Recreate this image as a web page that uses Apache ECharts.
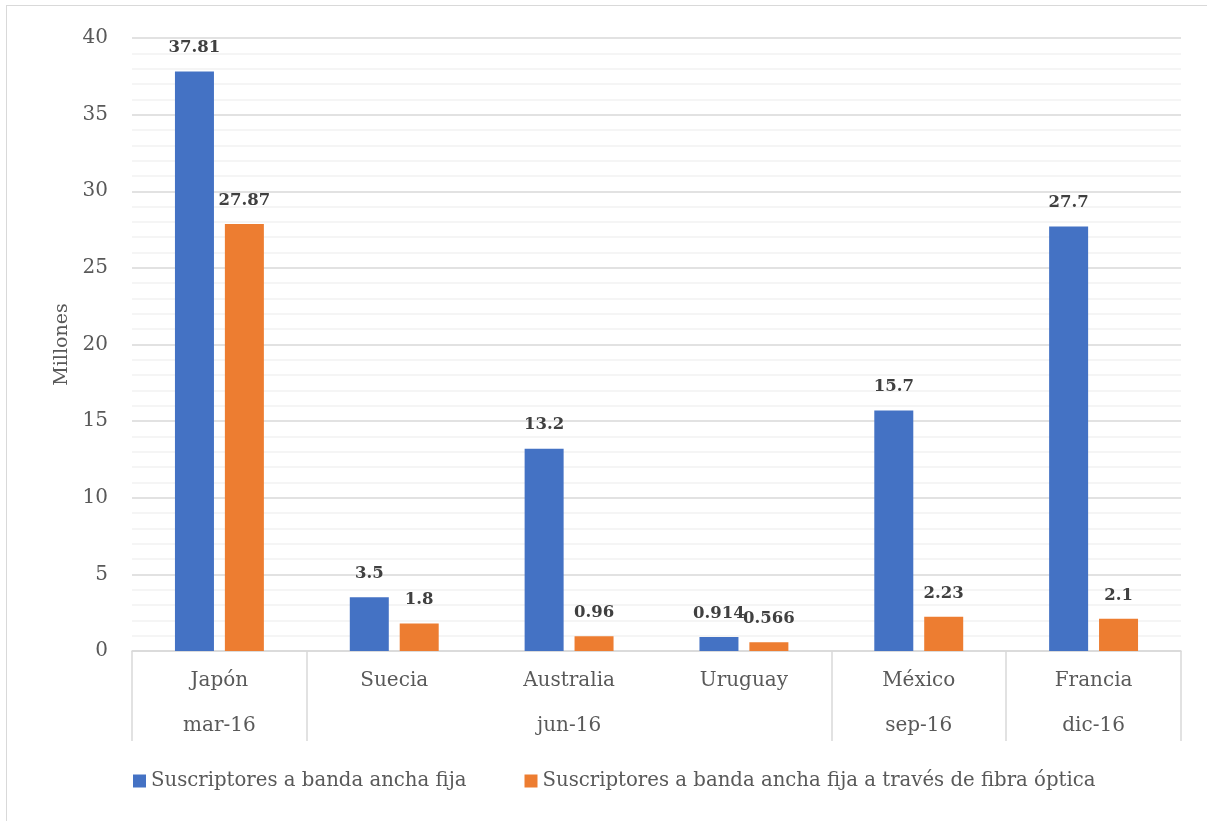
<!DOCTYPE html>
<html><head><meta charset="utf-8">
<script src="https://cdn.jsdelivr.net/npm/echarts@6/dist/echarts.min.js"></script>
<style>
html,body{margin:0;padding:0;background:#fff;}
#frame{position:absolute;left:6px;top:5px;width:1210px;height:830px;border:1px solid #d9d9d9;box-sizing:border-box;}
#c{position:absolute;left:0;top:0;width:1207px;height:821px;}
</style></head>
<body><div id="frame"></div><div id="c"></div>
<script>
const countries = ['Japón','Suecia','Australia','Uruguay','México','Francia'];
const periods = ['mar-16','','jun-16','','sep-16','dic-16'];
const groupStarts = [0,1,4,5];
const seriesNames = ['Suscriptores a banda ancha fija','Suscriptores a banda ancha fija a través de fibra óptica'];
const broadband = [37.81,3.5,13.2,0.914,15.7,27.7];
const fiber = [27.87,1.8,0.96,0.566,2.23,2.1];

const FONT = 'DejaVu Serif';
const chart = echarts.init(document.getElementById('c'));
const lbl = {show:true, position:'top', distance:15, fontFamily:FONT, fontWeight:'bold', fontSize:16.5, color:'#404040'};
chart.setOption({
  animation:false,
  textStyle:{fontFamily:FONT},
  grid:{left:132, right:26, top:38, bottom:170},
  legend:{bottom:25, left:128, itemWidth:13, itemHeight:13, itemGap:58, icon:'rect',
    textStyle:{fontFamily:FONT, fontSize:19.7, color:'#595959'}, data:seriesNames},
  xAxis:[
    {type:'category', data:countries, position:'bottom',
     axisLine:{lineStyle:{color:'#d9d9d9', width:1.5}},
     axisTick:{show:false},
     axisLabel:{margin:20, fontFamily:FONT, fontSize:20, color:'#595959'}},
    {type:'category', data:periods, position:'bottom', offset:0,
     axisLine:{show:false},
     axisTick:{show:true, length:90, interval:(i)=>groupStarts.includes(i), lineStyle:{color:'#d9d9d9', width:1.5}},
     axisLabel:{margin:65, interval:0, fontFamily:FONT, fontSize:20, color:'#595959'}}
  ],
  yAxis:{type:'value', min:0, max:40, interval:5, name:'Millones', nameLocation:'middle', nameGap:60, nameRotate:90,
    nameTextStyle:{fontFamily:FONT, fontSize:19, color:'#595959'},
    axisLine:{show:false}, axisTick:{show:false},
    axisLabel:{margin:24, fontFamily:FONT, fontSize:20, color:'#595959'},
    splitLine:{lineStyle:{color:'#d9d9d9', width:1.5}},
    minorTick:{show:false, splitNumber:5},
    minorSplitLine:{show:true, lineStyle:{color:'#f2f2f2', width:1.5}}},
  series:[
    {name:seriesNames[0], type:'bar', data:broadband, xAxisIndex:0, barWidth:39, barGap:'28%', itemStyle:{color:'#4472c4'}, label:lbl},
    {name:seriesNames[1], type:'bar', data:fiber, xAxisIndex:0, barWidth:39, barGap:'28%', itemStyle:{color:'#ed7d31'}, label:lbl}
  ]
});
</script></body></html>
